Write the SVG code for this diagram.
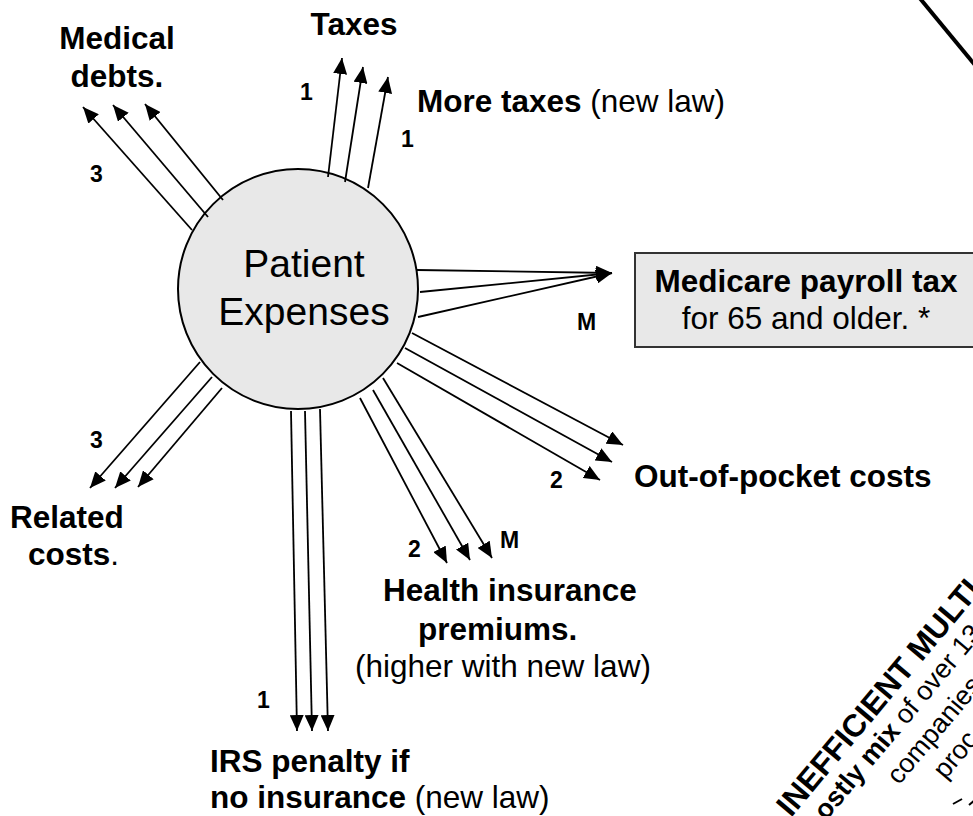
<svg xmlns="http://www.w3.org/2000/svg" width="973" height="816" viewBox="0 0 973 816">
<defs>
<marker id="ah" viewBox="0 0 16 14" refX="16" refY="7" markerWidth="16" markerHeight="14" markerUnits="userSpaceOnUse" orient="auto">
<path d="M0,0 L16,7 L0,14 z" fill="#000"/>
</marker>
<style>
text{font-family:"Liberation Sans",Arial,sans-serif;fill:#000}
.lb{font-size:31.5px}
.sm{font-size:27px}
.b{font-weight:bold}
.n{font-size:23px;font-weight:bold}
.c line{stroke:#000;stroke-width:1.8;marker-end:url(#ah)}
</style>
</defs>
<rect width="973" height="816" fill="#fff"/>
<g id="patient-expenses">
<circle cx="298" cy="289" r="120" fill="#e8e8e8" stroke="#000" stroke-width="2"/>
<text x="304" y="277" font-size="39" text-anchor="middle">Patient</text>
<text x="304" y="325" font-size="39" text-anchor="middle">Expenses</text>
</g>
<g id="connectors" class="c">
<line x1="328" y1="177" x2="342" y2="58"/>
<line x1="345" y1="182" x2="363" y2="67"/>
<line x1="368" y1="188" x2="388" y2="77"/>
<line x1="192" y1="230" x2="83" y2="107"/>
<line x1="208" y1="217" x2="113" y2="105"/>
<line x1="223" y1="200" x2="145" y2="104"/>
<line x1="417" y1="270" x2="612" y2="273"/>
<line x1="420" y1="292" x2="612" y2="273"/>
<line x1="418" y1="317" x2="612" y2="273"/>
<line x1="412" y1="333" x2="623" y2="445"/>
<line x1="405" y1="348" x2="612" y2="462"/>
<line x1="397" y1="363" x2="600" y2="480"/>
<line x1="360" y1="398" x2="447" y2="563"/>
<line x1="373" y1="390" x2="470" y2="560"/>
<line x1="383" y1="378" x2="492" y2="558"/>
<line x1="200" y1="362" x2="90" y2="488"/>
<line x1="212" y1="377" x2="115" y2="488"/>
<line x1="222" y1="388" x2="138" y2="487"/>
<line x1="291" y1="411" x2="297" y2="731"/>
<line x1="305" y1="411" x2="312" y2="731"/>
<line x1="320" y1="409" x2="328" y2="731"/>
</g>
<g id="medicare-payroll-tax">
<rect x="635" y="253" width="345" height="94" fill="#e8e8e8" stroke="#333" stroke-width="2"/>
<text class="lb b" x="806" y="292" text-anchor="middle">Medicare payroll tax</text>
<text class="lb" x="806" y="329" text-anchor="middle">for 65 and older. *</text>
</g>
<g id="taxes"><text class="lb b" x="354" y="35" text-anchor="middle">Taxes</text></g>
<g id="more-taxes"><text class="lb" x="417" y="112"><tspan class="b">More taxes</tspan> (new law)</text></g>
<g id="medical-debts">
<text class="lb b" x="117" y="49" text-anchor="middle">Medical</text>
<text class="lb b" x="117" y="87" text-anchor="middle">debts.</text>
</g>
<g id="related-costs">
<text class="lb b" x="10" y="528">Related</text>
<text class="lb" x="28" y="565"><tspan class="b">costs</tspan>.</text>
</g>
<g id="out-of-pocket"><text class="lb b" x="634" y="487">Out-of-pocket costs</text></g>
<g id="health-insurance">
<text class="lb b" x="383" y="601">Health insurance</text>
<text class="lb b" x="418" y="640">premiums.</text>
<text class="lb" x="355" y="677">(higher with new law)</text>
</g>
<g id="irs-penalty">
<text class="lb b" x="210" y="772">IRS penalty if</text>
<text class="lb" x="210" y="808"><tspan class="b">no insurance</tspan> (new law)</text>
</g>
<g id="edge-labels">
<text class="n" x="300" y="100">1</text>
<text class="n" x="401" y="147">1</text>
<text class="n" x="90" y="182">3</text>
<text class="n" x="577" y="330">M</text>
<text class="n" x="90" y="448">3</text>
<text class="n" x="550" y="488">2</text>
<text class="n" x="408" y="557">2</text>
<text class="n" x="500" y="548">M</text>
<text class="n" x="257" y="708">1</text>
</g>
<g id="inefficient-multi" transform="translate(791,818) rotate(-50)">
<text class="lb b" x="0" y="0">INEFFICIENT MULTI</text>
<text class="sm" x="20" y="29"><tspan class="b">ostly mix</tspan> of over 13</text>
<text class="sm" x="94" y="62">companies</text>
<text class="sm" x="128" y="94">proc</text>
</g>
<g id="marks" stroke="#000" stroke-width="2">
<line x1="953" y1="804" x2="962" y2="799"/>
<line x1="969" y1="805" x2="975" y2="800"/>
</g>
<line x1="918" y1="-4" x2="984" y2="76" stroke="#000" stroke-width="4"/>
</svg>
